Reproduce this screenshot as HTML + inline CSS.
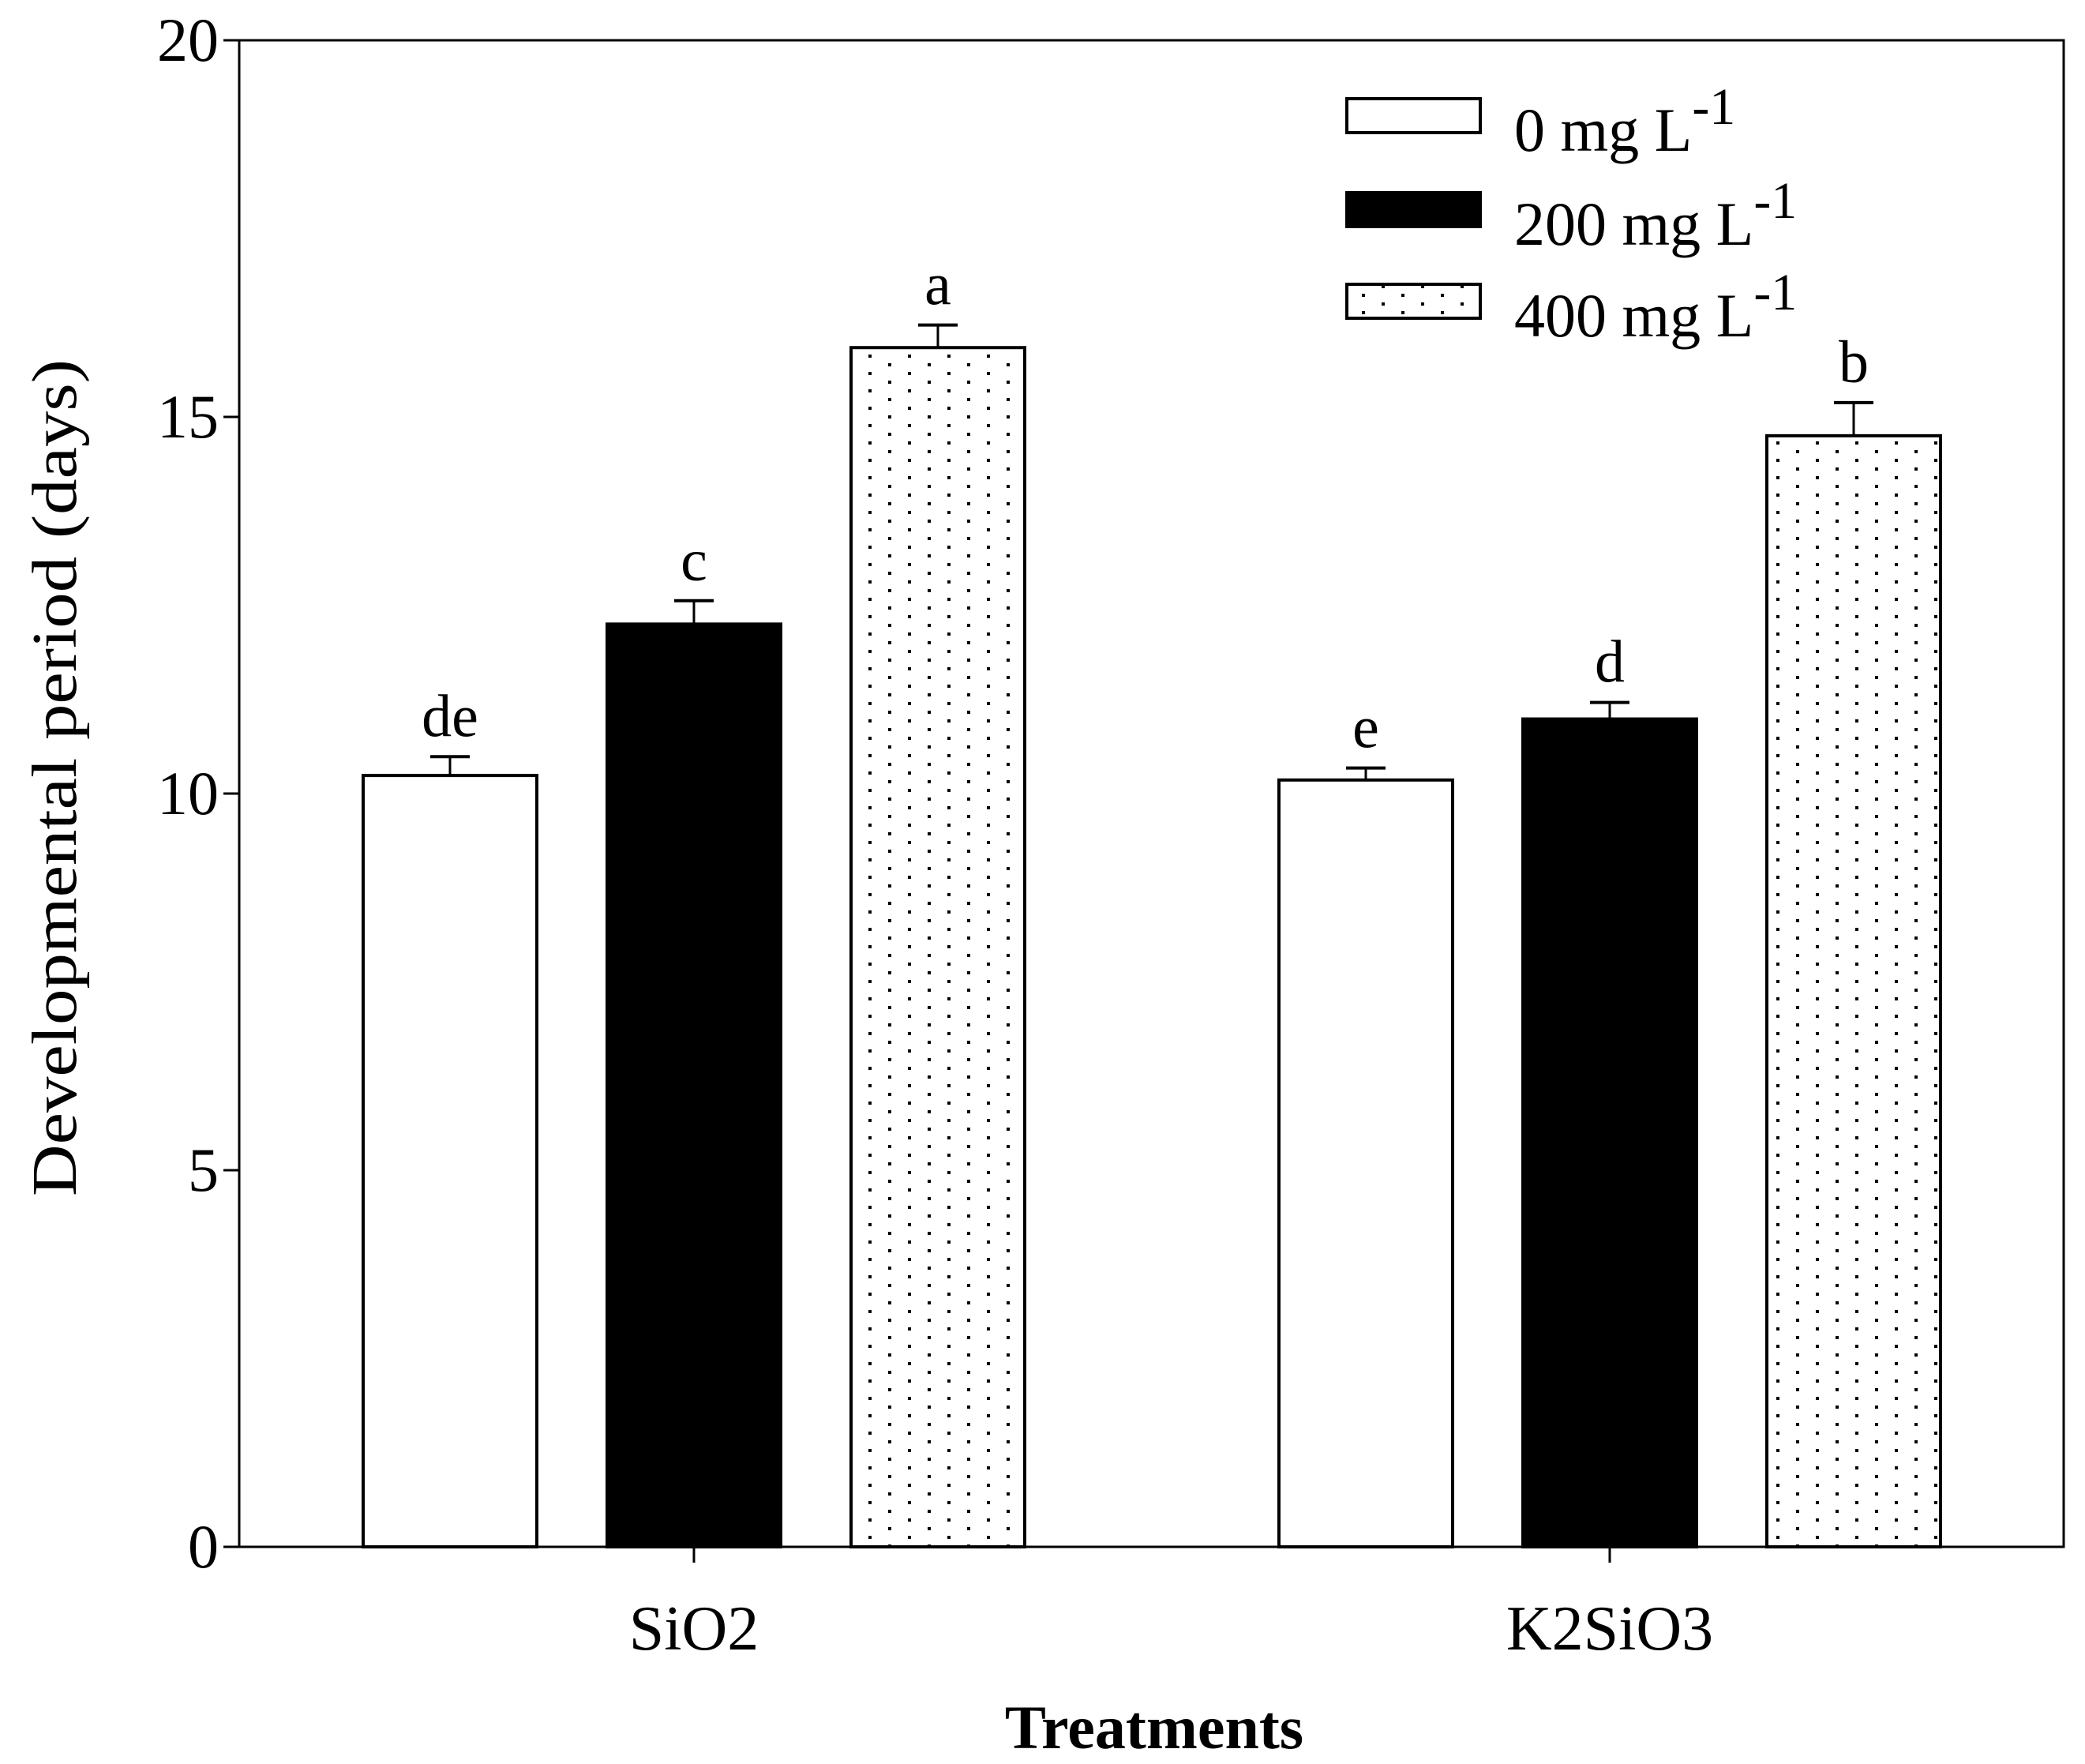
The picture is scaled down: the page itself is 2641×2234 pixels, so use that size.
<!DOCTYPE html>
<html><head><meta charset="utf-8">
<style>
html,body{margin:0;padding:0;background:#fff;}
svg{display:block;font-family:"Liberation Serif",serif;}
</style></head>
<body>
<svg id="chart" width="2641" height="2234" viewBox="0 0 2641 2234" xmlns="http://www.w3.org/2000/svg">
<defs>
<pattern id="dots" patternUnits="userSpaceOnUse" width="50" height="22" x="0" y="0">
<rect x="0" y="9" width="4" height="4" fill="#000"/>
<rect x="25" y="20" width="4" height="4" fill="#000"/>
<rect x="25" y="-2" width="4" height="4" fill="#000"/>
</pattern>
</defs>
<g id="plot"></g>
</svg>
<script>
const categories = ["SiO2", "K2SiO3"];
const seriesNames = ["0 mg L", "200 mg L", "400 mg L"];
const values0 = [10.24, 10.18];
const values200 = [12.25, 10.99];
const values400 = [15.92, 14.75];
const err0 = [0.25, 0.16];
const err200 = [0.31, 0.22];
const err400 = [0.30, 0.44];
const letters0 = ["de", "e"];
const letters200 = ["c", "d"];
const letters400 = ["a", "b"];
const yTicks = [0, 5, 10, 15, 20];

const NS = "http://www.w3.org/2000/svg";
const g = document.getElementById('plot');
const L = 303, R = 2614, T = 51, B = 1959;
const yMin = 0, yMax = 20;
function yScale(v){ return B - (v - yMin) / (yMax - yMin) * (B - T); }
const groupCenters = [879, 2039];
const barW = 220, barStep = 309;
function xBar(ci, si){ return groupCenters[ci] + (si - 1) * barStep - barW / 2; }
function mk(tag, attrs, parent){ const e = document.createElementNS(NS, tag); for (const k in attrs) e.setAttribute(k, attrs[k]); (parent || g).appendChild(e); return e; }

const series = [
  {vals: values0, errs: err0, lets: letters0, fill: "#fff", name: "0"},
  {vals: values200, errs: err200, lets: letters200, fill: "#000", name: "200"},
  {vals: values400, errs: err400, lets: letters400, fill: "url(#dots)", name: "400"}
];

series.forEach((s, si) => {
  categories.forEach((c, ci) => {
    const x = xBar(ci, si), y = yScale(s.vals[ci]);
    const cx = x + barW / 2;
    const eTop = yScale(s.vals[ci] + s.errs[ci]);
    const el = mk('line', {x1: cx, x2: cx, y1: y, y2: eTop, stroke: "#000", "stroke-width": 3});
    
    
    const cap = mk('line', {x1: cx - 25, x2: cx + 25, y1: eTop, y2: eTop, stroke: "#000", "stroke-width": 4});
    
    
    const r = mk('rect', {x: x, y: y, width: barW, height: B - y, fill: s.fill, stroke: "#000", "stroke-width": 4});
    
    
    const t = mk('text', {x: cx, y: eTop - 26, "font-size": 76, "text-anchor": "middle"});
    t.textContent = s.lets[ci];
    
    
  });
});

const frame = mk('rect', {x: L, y: T, width: R - L, height: B - T, fill: "none", stroke: "#000", "stroke-width": 3});



yTicks.forEach(v => {
  const y = yScale(v);
  const tk = mk('line', {x1: L - 20, x2: L, y1: y, y2: y, stroke: "#000", "stroke-width": 3});
  
  
  const lb = mk('text', {x: L - 26, y: y + 26, "font-size": 78, "text-anchor": "end"});
  lb.textContent = v;
  
  
});
categories.forEach((c, ci) => {
  const x = groupCenters[ci];
  const tk = mk('line', {x1: x, x2: x, y1: B, y2: B + 20, stroke: "#000", "stroke-width": 3});
  
  
  const lb = mk('text', {x: x, y: B + 130, "font-size": 80, "text-anchor": "middle"});
  lb.textContent = c;
  
  
});

const yt = mk('text', {x: 0, y: 0, "font-size": 80, "text-anchor": "middle", transform: "translate(96,985) rotate(-90)", textLength: 1060, lengthAdjust: "spacingAndGlyphs"});
yt.textContent = "Developmental period (days)";


const xt = mk('text', {x: 1462, y: 2214, "font-size": 78, "font-weight": "bold", "text-anchor": "middle"});
xt.textContent = "Treatments";



const legYs = [125, 244, 360];
series.forEach((s, si) => {
  const y = legYs[si];
  const sw = mk('rect', {x: 1706, y: y, width: 169, height: 43, fill: s.fill, stroke: "#000", "stroke-width": 4});
  
  
  const t = mk('text', {x: 1918, y: y + 66, "font-size": 78});
  
  
  t.appendChild(document.createTextNode(seriesNames[si]));
  const sup = document.createElementNS(NS, 'tspan');
  sup.setAttribute('dy', -34);
  sup.setAttribute('font-size', 66);
  sup.textContent = "-1";
  t.appendChild(sup);
});
</script>
</body></html>
